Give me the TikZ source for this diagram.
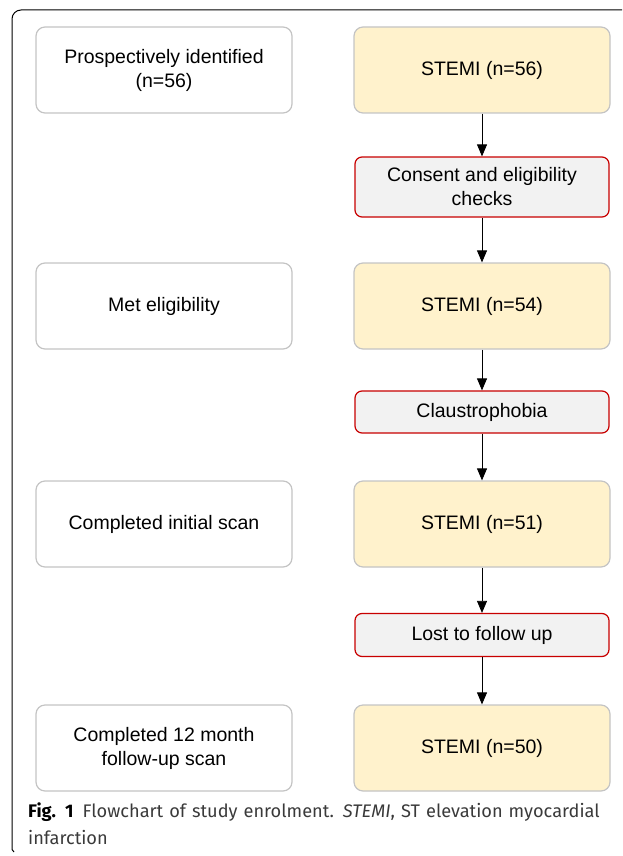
\documentclass[tikz,border=0pt]{standalone}
\usepackage{fontspec}
\setmainfont{Liberation Sans}
\newfontfamily\capfont{Fira Sans}
\usetikzlibrary{arrows.meta}
\definecolor{stemiyellow}{HTML}{FFF2CC}
\definecolor{boxgrey}{HTML}{C4C4C4}
\definecolor{exclred}{HTML}{C80000}
\definecolor{exclfill}{HTML}{F2F2F2}
\definecolor{captext}{HTML}{3A3A3A}
\tikzstyle{stage} = [rectangle, rounded corners=9pt, minimum width=256pt, minimum height=86pt, text centered, align=center, draw=boxgrey, line width=1.2pt, fill=white, font=\fontsize{19.5}{24}\selectfont]
\tikzstyle{stemi} = [stage, fill=stemiyellow]
\tikzstyle{excl} = [rectangle, rounded corners=7pt, minimum width=254pt, text centered, align=center, draw=exclred, line width=1.2pt, fill=exclfill, font=\fontsize{19.5}{24}\selectfont]
\tikzstyle{arrow} = [line width=0.8pt, -{Triangle[width=10pt,length=12pt]}]

\begin{document}
\begin{tikzpicture}[x=1pt, y=1pt]
\useasboundingbox (0,0) rectangle (622,-856);

% outer frame
\draw [line width=1pt] (14,-852) .. controls (12,-850) .. (12,-846) -- (12,-19) arc (180:90:9) -- (622,-10);

% left column
\node (ident) [stage] at (164,-70) {Prospectively identified\\(n=56)};
\node (elig) [stage] at (164,-306) {Met eligibility};
\node (initial) [stage] at (164,-524) {Completed initial scan};
\node (follow) [stage] at (164,-748) {Completed 12 month\\follow-up scan};

% right column
\node (s56) [stemi] at (482,-70) {STEMI (n=56)};
\node (consent) [excl, minimum height=60pt] at (482,-187) {Consent and eligibility\\checks};
\node (s54) [stemi] at (482,-306) {STEMI (n=54)};
\node (claus) [excl, minimum height=42pt] at (482,-412) {Claustrophobia};
\node (s51) [stemi] at (482,-524) {STEMI (n=51)};
\node (lost) [excl, minimum height=43pt] at (482,-635) {Lost to follow up};
\node (s50) [stemi] at (482,-748) {STEMI (n=50)};

\draw [arrow] (s56) -- (consent);
\draw [arrow] (consent) -- (s54);
\draw [arrow] (s54) -- (claus);
\draw [arrow] (claus) -- (s51);
\draw [arrow] (s51) -- (lost);
\draw [arrow] (lost) -- (s50);

% caption
\node (caption) [anchor=north west, text width=590pt, align=left, inner sep=0pt, text=captext, font=\capfont\fontsize{18.2}{27}\selectfont] at (28,-803) {\textcolor{black}{\textbf{Fig. 1}}\enspace Flowchart of study enrolment. \textit{STEMI}, ST elevation myocardial\\infarction};

\end{tikzpicture}
\end{document}
